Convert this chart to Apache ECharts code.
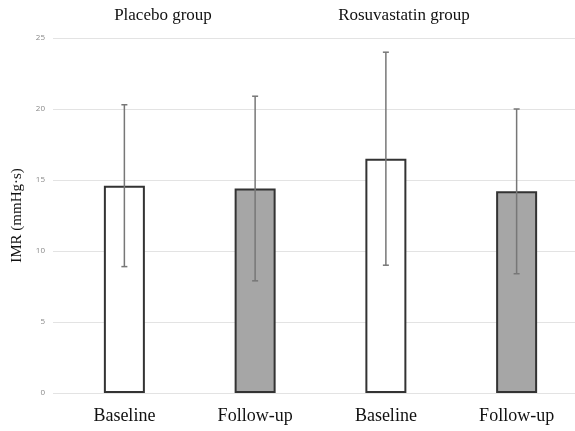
<!DOCTYPE html>
<html><head><meta charset="utf-8">
<script src="https://cdn.jsdelivr.net/npm/echarts@6/dist/echarts.min.js"></script>
<style>html,body{margin:0;padding:0;background:#fff}#c{width:575px;height:431px}</style>
</head><body><div id="c"></div>
<script>
var categories = ['Baseline', 'Follow-up', 'Baseline ', 'Follow-up '];
var groupTitles = ['Placebo group', 'Rosuvastatin group'];
var means = [14.6, 14.4, 16.5, 14.2];
var lowerBounds = [8.9, 7.9, 9.0, 8.4];
var upperBounds = [20.3, 20.9, 24.0, 20.0];
var barFills = ['#ffffff', '#a6a6a6', '#ffffff', '#a6a6a6'];
var yTicks = [0, 5, 10, 15, 20, 25];
var yName = 'IMR (mmHg\u00b7s)';

var chart = echarts.init(document.getElementById('c'), null, {renderer: 'canvas'});
var serif = '"Liberation Serif", "Times New Roman", serif';
var option = {
  animation: false,
  backgroundColor: '#ffffff',
  grid: [
    {left: 53, right: 0, top: 38, bottom: 38, outerBoundsMode: 'none'},
    {left: 59, width: 523, top: 38, bottom: 38, outerBoundsMode: 'none'}
  ],
  graphic: [
    {type: 'text', x: 163, y: 7, style: {text: groupTitles[0], font: '17px ' + serif, fill: '#111', textAlign: 'center'}},
    {type: 'text', x: 404, y: 7, style: {text: groupTitles[1], font: '17px ' + serif, fill: '#111', textAlign: 'center'}}
  ],
  xAxis: [
    {type: 'value', gridIndex: 0, show: false, min: 0, max: 1},
    {type: 'category', gridIndex: 1, data: categories,
     axisLine: {show: false}, axisTick: {show: false},
     axisLabel: {color: '#111', fontFamily: serif, fontSize: 18, margin: 14,
       formatter: function (v) { return v.trim(); }}}
  ],
  yAxis: [
    {type: 'value', gridIndex: 0, min: yTicks[0], max: yTicks[yTicks.length - 1], interval: 5,
     name: yName, nameLocation: 'middle', nameGap: 24,
     nameTextStyle: {fontFamily: serif, fontSize: 15, color: '#111'},
     axisLine: {show: false}, axisTick: {show: false},
     axisLabel: {color: '#888', fontSize: 8, margin: 8, fontFamily: '"Open Sans", sans-serif'},
     splitLine: {lineStyle: {color: '#e3e3e3', width: 1}}},
    {type: 'value', gridIndex: 1, min: yTicks[0], max: yTicks[yTicks.length - 1], show: false, splitLine: {show: false}}
  ],
  series: [
    {type: 'bar', xAxisIndex: 1, yAxisIndex: 1, barWidth: 41,
     data: means.map(function (v, i) {
       return {value: v, itemStyle: {color: barFills[i], borderColor: '#333', borderWidth: 2}};
     })},
    {type: 'custom', xAxisIndex: 1, yAxisIndex: 1, z: 10,
     data: categories.map(function (c, i) { return [i, lowerBounds[i], upperBounds[i]]; }),
     renderItem: function (params, api) {
       var lo = api.coord([api.value(0), api.value(1)]);
       var hi = api.coord([api.value(0), api.value(2)]);
       var hw = 3;
       var st = {stroke: '#777', lineWidth: 1.5};
       return {type: 'group', children: [
         {type: 'line', shape: {x1: lo[0], y1: lo[1], x2: hi[0], y2: hi[1]}, style: st},
         {type: 'line', shape: {x1: lo[0] - hw, y1: lo[1], x2: lo[0] + hw, y2: lo[1]}, style: st},
         {type: 'line', shape: {x1: hi[0] - hw, y1: hi[1], x2: hi[0] + hw, y2: hi[1]}, style: st}
       ]};
     }}
  ]
};
chart.setOption(option);
</script></body></html>
